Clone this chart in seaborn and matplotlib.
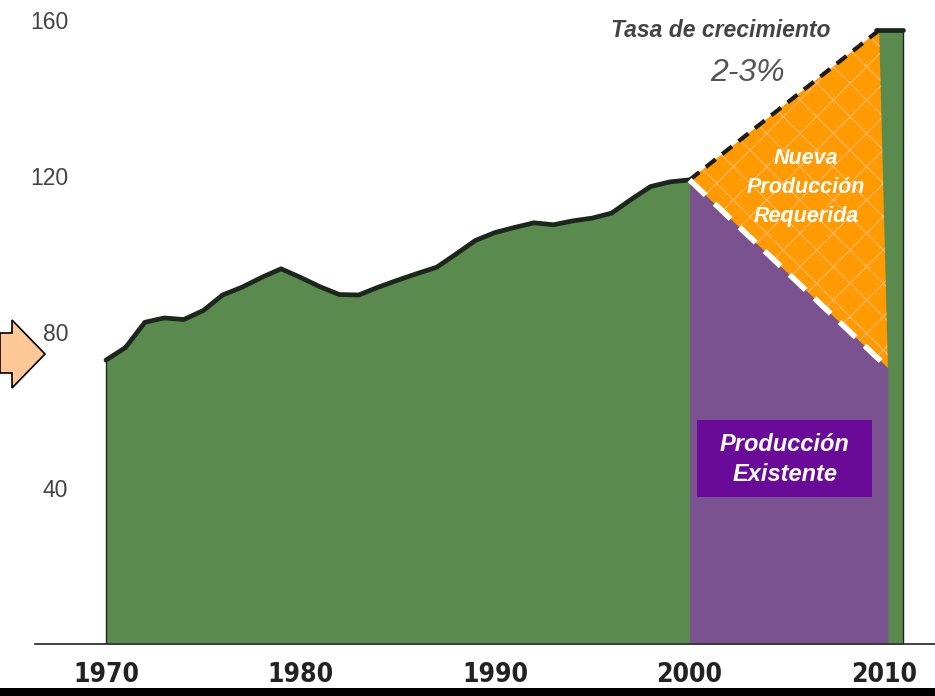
import matplotlib
matplotlib.use("Agg")
import matplotlib.pyplot as plt
from matplotlib.patches import Polygon, Rectangle
import seaborn as sns
import numpy as np
import pandas as pd

# datos
years = list(range(1970, 2001))
production = [72.8, 76.0, 82.5, 83.6, 83.2, 85.5, 89.5, 91.5, 94.0, 96.2,
              94.0, 91.6, 89.6, 89.5, 91.5, 93.3, 95.0, 96.6, 100.0, 103.5,
              105.5, 106.8, 108.0, 107.5, 108.5, 109.2, 110.5, 114.0, 117.3, 118.5,
              119.0]
growth_years = [2000, 2009.75]
demand = [119.0, 157.4]
decline_years = [2000, 2010.2]
existing = [119.0, 70.8]
green_end = 2011.0

x_ticks = [1970, 1980, 1990, 2000, 2010]
y_ticks = [40, 80, 120, 160]

sns.set_style("white")
plt.rcParams['font.family'] = ['Liberation Sans', 'DejaVu Sans']
plt.rcParams['hatch.linewidth'] = 0.9

fig = plt.figure(figsize=(9.35, 6.96), dpi=100)
ax = fig.add_axes([35 / 935, 52 / 696, 900 / 935, 644 / 696])

green = '#5b8a4e'
purple = '#7b5290'
orange = '#ff9a00'

# area verde (historico + tramo final)
gx = years + [growth_years[1], green_end]
gy = production + [demand[1], demand[1]]
ax.fill_between(gx, 0, gy, color=green, lw=0, zorder=1)

# produccion existente (declive)
ax.fill_between(decline_years, 0, existing, color=purple, lw=0, zorder=2)

# nueva produccion requerida (triangulo)
tri_x = [growth_years[0], growth_years[1], decline_years[1]]
tri_y = [demand[0], demand[1], existing[1]]
ax.fill(tri_x, tri_y, facecolor=orange, edgecolor='#ffb562', hatch='x', lw=0, zorder=3)

# contorno superior
df = pd.DataFrame({'year': years, 'prod': production})
sns.lineplot(data=df, x='year', y='prod', color='#1c261c', lw=3.4, ax=ax, zorder=4)
ax.plot([growth_years[1] - 0.15, green_end], [demand[1], demand[1]], color='#1c261c', lw=3.4, zorder=4)
ax.plot([green_end, green_end], [0, demand[1]], color='#1c261c', lw=1.0, zorder=4)
ax.plot([years[0], years[0]], [0, production[0]], color='#1c261c', lw=1.0, zorder=4)

# lineas discontinuas
ax.plot(growth_years, demand, color='#1c1c1c', lw=3, dashes=(3, 2), zorder=5)
ax.plot(decline_years, existing, color='white', lw=4, dashes=(4, 2.2), zorder=5)

ax.set_xlim(1966.35, 2012.62)
ax.set_ylim(0, 644 / 3.9)
ax.set_xticks(x_ticks)
ax.set_xticklabels([str(t) for t in x_ticks], fontsize=19, fontweight='bold',
                   family='DejaVu Sans', fontstretch='condensed', color='#222222')
ax.set_yticks(y_ticks)
ax.set_yticklabels([str(t) for t in y_ticks], fontsize=16.5, color='#444444')
ax.tick_params(axis='x', length=0, pad=13)
ax.tick_params(axis='y', length=0, pad=-24)
for s in ['top', 'right', 'left']:
    ax.spines[s].set_visible(False)
ax.spines['bottom'].set_color('#333333')
ax.spines['bottom'].set_linewidth(1.3)
ax.set_xlabel('')
ax.set_ylabel('')

# textos
ax.text(2001.6, 157.4, 'Tasa de crecimiento', ha='center', va='center', fontsize=16.5,
        fontweight='bold', fontstyle='italic', color='#444444', zorder=6)
ax.text(2003.0, 146.5, '2-3%', ha='center', va='center', fontsize=23,
        fontstyle='italic', color='#555555', zorder=6)
ax.text(2006.0, 117.0, 'Nueva\nProducción\nRequerida', ha='center', va='center', fontsize=15.5,
        fontweight='bold', fontstyle='italic', color='white', linespacing=1.5, zorder=6)
ax.add_patch(Rectangle((2000.4, 37.7), 9.0, 19.7, facecolor='#690a98', edgecolor='none', zorder=6))
ax.text(2004.9, 47.3, 'Producción\nExistente', ha='center', va='center', fontsize=17,
        fontweight='bold', fontstyle='italic', color='white', linespacing=1.4, zorder=7)

# flecha a la izquierda (coordenadas de figura)
W, H = 935, 696
pts = [(0, 333), (12, 333), (12, 320), (45, 354), (12, 388), (12, 373), (0, 373)]
arrow = Polygon([(x / W, 1 - y / H) for x, y in pts], closed=True, transform=fig.transFigure,
                facecolor='#ffc896', edgecolor='black', lw=1.2)
fig.patches.append(arrow)

# borde negro inferior
fig.patches.append(Rectangle((0, 0), 1, 8 / H, transform=fig.transFigure,
                             facecolor='black', edgecolor='none'))

fig.savefig('out.png', dpi=100)
